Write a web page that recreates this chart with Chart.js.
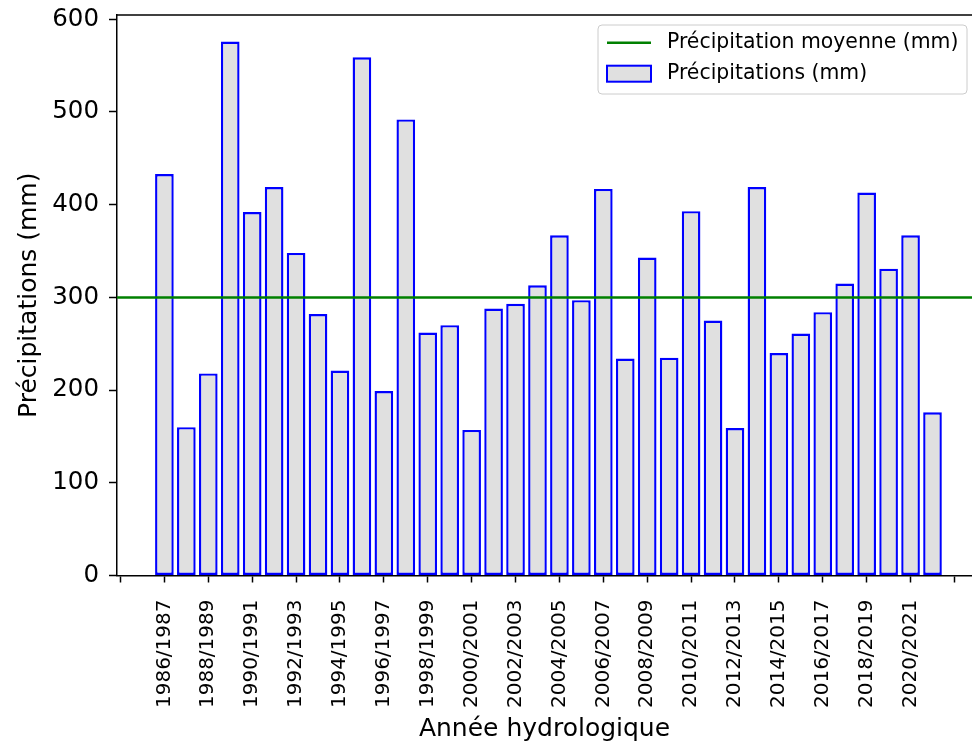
<!DOCTYPE html>
<html>
<head>
<meta charset="utf-8">
<script src="https://cdn.jsdelivr.net/npm/chart.js@4"></script>
<style>
  html, body { margin: 0; padding: 0; background: #fff; }
  #wrap { width: 972px; height: 744px; }
</style>
</head>
<body>
<div id="wrap"><canvas id="precipChart" width="972" height="744"></canvas></div>
<script>
const years = [
  "1986/1987", "1987/1988", "1988/1989", "1989/1990", "1990/1991", "1991/1992",
  "1992/1993", "1993/1994", "1994/1995", "1995/1996", "1996/1997", "1997/1998",
  "1998/1999", "1999/2000", "2000/2001", "2001/2002", "2002/2003", "2003/2004",
  "2004/2005", "2005/2006", "2006/2007", "2007/2008", "2008/2009", "2009/2010",
  "2010/2011", "2011/2012", "2012/2013", "2013/2014", "2014/2015", "2015/2016",
  "2016/2017", "2017/2018", "2018/2019", "2019/2020", "2020/2021", "2021/2022",
];
const precipitations = [
  433, 160, 218, 576, 392, 419,
  348, 282, 221, 559, 199, 492,
  262, 270, 157, 288, 293, 313,
  367, 297, 417, 234, 343, 235,
  393, 275, 159, 419, 240, 261,
  284, 315, 413, 331, 367, 176,
];
const meanPrecipitation = 300;
// tick positions (index in years), the outer two have no label
const xTickIndexes = [-2, 0, 2, 4, 6, 8, 10, 12, 14, 16, 18, 20, 22, 24, 26, 28, 30, 32, 34, 36];
const yTicks = [0, 100, 200, 300, 400, 500, 600];

const xMin = -2.16;
const xMax = 36.8;
const yMax = 604.6;
const fontFamily = "'DejaVu Sans', sans-serif";

const frameAndLegend = {
  id: "frameAndLegend",
  afterDatasetsDraw(chart) {
    const { ctx, chartArea: ca } = chart;
    ctx.save();
    // top spine
    ctx.strokeStyle = "#000";
    ctx.lineWidth = 1.5;
    ctx.beginPath();
    ctx.moveTo(ca.left, ca.top);
    ctx.lineTo(ca.right, ca.top);
    ctx.stroke();

    // legend box
    const boxX = ca.right - 374;
    const boxY = ca.top + 10;
    ctx.fillStyle = "rgba(255,255,255,0.8)";
    ctx.strokeStyle = "#cccccc";
    ctx.lineWidth = 1;
    ctx.beginPath();
    ctx.roundRect(boxX, boxY, 369, 69, 4);
    ctx.fill();
    ctx.stroke();

    const [lineSet, barSet] = chart.data.datasets;
    ctx.font = "20.4px " + fontFamily;
    ctx.textBaseline = "middle";
    ctx.textAlign = "left";

    ctx.strokeStyle = lineSet.borderColor;
    ctx.lineWidth = lineSet.borderWidth;
    ctx.beginPath();
    ctx.moveTo(boxX + 9, boxY + 17.7);
    ctx.lineTo(boxX + 53, boxY + 17.7);
    ctx.stroke();
    ctx.fillStyle = "#000";
    ctx.fillText(lineSet.label, boxX + 69, boxY + 17.7);

    ctx.fillStyle = barSet.backgroundColor;
    ctx.strokeStyle = barSet.borderColor;
    ctx.lineWidth = 2;
    ctx.fillRect(boxX + 9, boxY + 40.7, 44, 16);
    ctx.strokeRect(boxX + 9, boxY + 40.7, 44, 16);
    ctx.fillStyle = "#000";
    ctx.fillText(barSet.label, boxX + 69, boxY + 48.3);
    ctx.restore();
  },
};

new Chart("precipChart", {
  type: "bar",
  data: {
    datasets: [
      {
        type: "line",
        label: "Précipitation moyenne (mm)",
        data: [
          { x: xMin, y: meanPrecipitation },
          { x: xMax, y: meanPrecipitation },
        ],
        borderColor: "#008000",
        borderWidth: 2.5,
        pointRadius: 0,
        order: 0,
      },
      {
        type: "bar",
        label: "Précipitations (mm)",
        data: precipitations.map((v, i) => ({ x: i, y: v })),
        backgroundColor: "#e0e0e0",
        borderColor: "#0000ff",
        borderWidth: 2.4,
        borderSkipped: false,
        barPercentage: 0.85,
        categoryPercentage: 1,
        order: 1,
      },
    ],
  },
  options: {
    responsive: false,
    animation: false,
    layout: { padding: { top: 15, right: 0, left: 0, bottom: 0 } },
    plugins: {
      legend: { display: false },
      tooltip: { enabled: false },
    },
    scales: {
      x: {
        type: "linear",
        min: xMin,
        max: xMax,
        offset: false,
        grid: { offset: false, drawOnChartArea: false, color: "#000", tickLength: 7, tickWidth: 1.5 },
        border: { color: "#000", width: 1.5 },
        afterBuildTicks: (scale) => {
          scale.ticks = xTickIndexes.map((v) => ({ value: v }));
        },
        ticks: {
          autoSkip: false,
          minRotation: 90,
          maxRotation: 90,
          padding: 17,
          color: "#000",
          font: { family: fontFamily, size: 20 },
          callback: (v) => years[v] || "",
        },
        title: {
          display: true,
          text: "Année hydrologique",
          color: "#000",
          font: { family: fontFamily, size: 25 },
          padding: { top: 0, bottom: 0 },
        },
        afterFit: (scale) => {
          scale.height = 168.5;
          scale.paddingLeft = 0;
          scale.paddingRight = 0;
        },
      },
      y: {
        min: 0,
        max: yMax,
        grid: { drawOnChartArea: false, color: "#000", tickLength: 8, tickWidth: 1.5 },
        border: { color: "#000", width: 1.5 },
        afterBuildTicks: (scale) => {
          scale.ticks = yTicks.map((v) => ({ value: v }));
        },
        ticks: {
          padding: 10,
          color: "#000",
          font: { family: fontFamily, size: 24.5 },
        },
        title: {
          display: true,
          text: "Précipitations (mm)",
          color: "#000",
          font: { family: fontFamily, size: 25 },
          padding: { top: 14, bottom: 0 },
        },
        afterFit: (scale) => {
          scale.width = 117;
          scale.paddingTop = 0;
          scale.paddingBottom = 0;
        },
      },
    },
  },
  plugins: [frameAndLegend],
});
</script>
</body>
</html>
